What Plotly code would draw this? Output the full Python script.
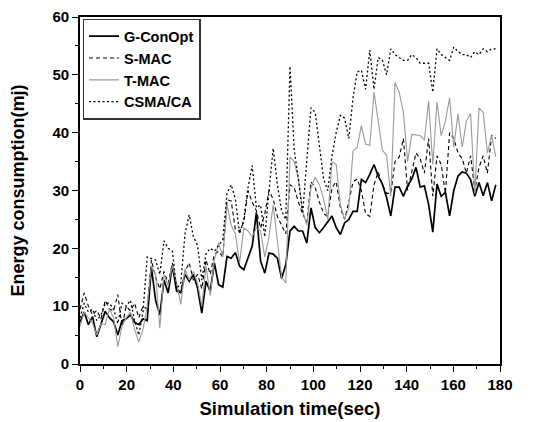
import plotly.graph_objects as go

time_sec = [0.0, 1.8, 3.6, 5.4, 7.2, 9.0, 10.8, 12.6, 14.4, 16.2,
            18.0, 19.8, 21.6, 23.4, 25.2, 27.0, 28.8, 30.6, 32.4, 34.2,
            36.0, 37.8, 39.6, 41.4, 43.2, 45.0, 46.8, 48.6, 50.4, 52.2,
            54.0, 55.8, 57.6, 59.4, 61.2, 63.0, 64.8, 66.6, 68.4, 70.2,
            72.0, 73.8, 75.6, 77.4, 79.2, 81.0, 82.8, 84.6, 86.4, 88.2,
            90.0, 91.8, 93.6, 95.4, 97.2, 99.0, 100.8, 102.6, 104.4, 106.2,
            108.0, 109.8, 111.6, 113.4, 115.2, 117.0, 118.8, 120.6, 122.4, 124.2,
            126.0, 127.8, 129.6, 131.4, 133.2, 135.0, 136.8, 138.6, 140.4, 142.2,
            144.0, 145.8, 147.6, 149.4, 151.2, 153.0, 154.8, 156.6, 158.4, 160.2,
            162.0, 163.8, 165.6, 167.4, 169.2, 171.0, 172.8, 174.6, 176.4, 178.2]

g_conopt = [7.2, 9.0, 6.8, 8.2, 4.7, 7.0, 9.1, 8.0, 7.3, 5.0,
            7.5, 7.8, 8.5, 7.2, 6.8, 7.8, 7.5, 16.7, 11.0, 8.5,
            14.5, 12.3, 17.0, 12.6, 12.3, 15.5, 14.3, 15.5, 13.1, 8.8,
            14.3, 12.6, 17.5, 13.7, 13.3, 18.6, 18.3, 19.3, 16.9, 16.3,
            18.3, 20.4, 26.2, 17.8, 15.7, 19.2, 19.0, 18.3, 14.8, 17.2,
            23.0, 23.8, 23.0, 23.0, 20.9, 27.0, 23.6, 22.7, 23.6, 24.7,
            25.6, 23.6, 22.4, 24.4, 25.0, 26.4, 26.4, 31.9, 31.4, 32.8,
            34.5, 32.5, 31.1, 28.8, 25.6, 30.6, 30.6, 29.0, 30.8, 32.0,
            34.0, 30.6, 30.8, 27.6, 22.8, 31.1, 29.0, 29.7, 25.6, 30.0,
            32.5, 33.2, 33.0, 31.9, 29.0, 31.4, 29.1, 31.4, 28.2, 31.0]

s_mac = [9.5, 12.3, 10.0, 8.5, 9.3, 7.8, 11.0, 9.5, 9.2, 12.0,
         6.5, 10.0, 9.2, 10.5, 8.0, 10.0, 9.5, 18.0, 15.0, 13.0,
         16.0, 14.0, 17.5, 13.0, 12.5, 16.0, 17.5, 14.5, 15.5, 13.0,
         18.0, 15.5, 19.0, 19.5, 18.5, 28.4, 28.2, 23.2, 23.0, 24.5,
         30.0, 28.0, 26.5, 23.5, 26.0, 30.0, 28.5, 25.5, 24.0, 22.5,
         31.0, 30.5, 28.0, 26.0, 24.5, 31.5, 30.5, 28.0, 26.0, 25.5,
         30.5, 31.5, 27.0, 25.0, 28.0, 31.5, 32.0, 30.0, 26.0, 25.5,
         31.0, 33.2, 31.0, 29.5, 29.5, 35.0, 35.8, 39.0, 30.0, 33.0,
         36.5, 35.5, 33.0, 39.0, 29.0, 36.0, 34.5, 29.5, 40.0, 39.0,
         36.5, 35.5, 33.0, 36.0, 30.0, 34.0, 36.0, 33.0, 39.5, 39.0]

t_mac = [6.5, 9.0, 8.0, 7.0, 5.0, 7.0, 6.8, 9.5, 8.0, 3.0,
         6.5, 8.0, 9.0, 6.0, 3.8, 6.0, 10.0, 17.0, 15.5, 6.2,
         15.5, 13.5, 17.0, 14.0, 10.3, 16.5, 14.5, 16.0, 14.0, 10.0,
         17.0, 11.8, 18.0, 21.0, 18.5, 27.5, 24.0, 22.5, 17.5, 23.5,
         23.0, 22.0, 23.5, 23.0, 18.5, 22.0, 27.5, 21.0, 15.0, 14.0,
         35.8, 35.0, 32.0, 26.5, 24.0, 30.5, 32.3, 31.0, 28.5, 25.0,
         35.0, 34.5, 27.5, 25.0, 27.0, 36.8, 37.5, 41.2, 38.0, 37.8,
         47.0, 42.0, 37.0, 36.0, 29.0, 48.7, 47.0, 43.5, 35.0, 39.7,
         39.6, 39.5, 38.7, 45.5, 34.5, 45.3, 39.5, 42.0, 46.0, 37.5,
         43.3, 37.5, 42.0, 43.3, 29.5, 44.3, 43.5, 36.5, 39.5, 35.8]

csma_ca = [8.0, 10.5, 9.0, 9.5, 7.5, 8.5, 10.5, 10.5, 9.5, 7.0,
           10.5, 10.0, 11.0, 7.5, 5.0, 9.0, 18.5, 18.2, 18.0, 15.5,
           21.3, 20.0, 19.5, 13.0, 14.0, 22.5, 25.8, 22.0, 20.5, 14.5,
           19.0, 20.0, 19.5, 20.5, 21.5, 29.5, 31.0, 28.5, 22.5, 25.0,
           30.5, 34.3, 27.0, 27.5, 22.0, 30.0, 37.3, 31.0, 26.5, 25.0,
           51.5, 37.0, 32.0, 26.0, 35.0, 44.3, 43.5, 38.0, 32.0, 30.0,
           36.0, 40.0, 43.0, 42.5, 39.0, 46.0, 50.5, 50.8, 47.5, 54.3,
           47.5, 53.0, 52.5, 50.0, 54.5, 53.5, 53.0, 52.5, 52.5, 53.5,
           53.0, 52.0, 52.0, 52.0, 47.0, 54.5, 53.5, 53.0, 52.5, 54.8,
           54.0, 53.5, 53.5, 53.0, 54.0, 53.5, 54.5, 54.0, 54.5, 54.5]

series_names = ["G-ConOpt", "S-MAC", "T-MAC", "CSMA/CA"]
x_ticks = [0, 20, 40, 60, 80, 100, 120, 140, 160, 180]
y_ticks = [0, 10, 20, 30, 40, 50, 60]

styles = [
    dict(color="black", width=1.7, dash="solid"),
    dict(color="black", width=1.1, dash="4px,3px"),
    dict(color="#9a9a9a", width=1.1, dash="solid"),
    dict(color="black", width=1.3, dash="2px,2.5px"),
]

fig = go.Figure()
for name, ys, st in zip(series_names, [g_conopt, s_mac, t_mac, csma_ca], styles):
    fig.add_trace(go.Scatter(x=time_sec, y=ys, mode="lines", name=name, line=st))

font_family = "Liberation Sans, Arial, sans-serif"
fig.update_layout(
    width=548, height=422,
    margin=dict(l=72, r=56, t=9, b=66, autoexpand=False),
    paper_bgcolor="white", plot_bgcolor="white",
    font=dict(family=font_family, color="black", size=14),
    showlegend=True,
    legend=dict(
        x=0.006, y=0.995, xanchor="left", yanchor="top",
        bgcolor="white", bordercolor="#333333", borderwidth=1.5,
        font=dict(family=font_family, size=14.5, color="black", weight="bold"),
        tracegroupgap=0, itemwidth=30,
    ),
)
fig.update_xaxes(
    range=[0, 180], tickvals=x_ticks, ticktext=[str(v) for v in x_ticks],
    showgrid=False, zeroline=False, automargin=False, ticklabeloverflow="allow",
    showline=True, linecolor="black", linewidth=1.6, mirror=True,
    ticks="outside", ticklen=6, tickwidth=1.3, tickcolor="black",
    minor=dict(ticks="outside", dtick=10, ticklen=3, tickwidth=1.3, tickcolor="black"),
    tickfont=dict(family=font_family, size=15, weight="bold"),
    title=dict(text="Simulation time(sec)", standoff=10,
               font=dict(family=font_family, size=18.5, weight="bold")),
)
fig.update_yaxes(
    range=[0, 60], tickvals=y_ticks, ticktext=[str(v) for v in y_ticks],
    showgrid=False, zeroline=False, automargin=False, ticklabeloverflow="allow",
    showline=True, linecolor="black", linewidth=1.6, mirror=True,
    ticks="outside", ticklen=6, tickwidth=1.3, tickcolor="black",
    minor=dict(ticks="outside", dtick=5, ticklen=3, tickwidth=1.3, tickcolor="black"),
    tickfont=dict(family=font_family, size=15, weight="bold"),
    title=dict(text="Energy consumption(mj)", standoff=25,
               font=dict(family=font_family, size=18, weight="bold")),
)

fig.write_html("out.html")
